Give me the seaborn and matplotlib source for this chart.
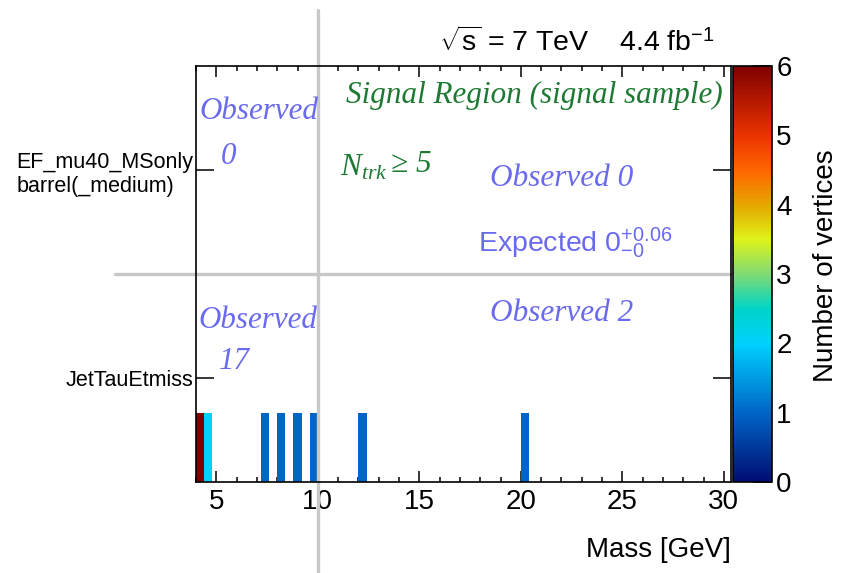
import numpy as np
import pandas as pd
import matplotlib
matplotlib.use("Agg")
import matplotlib.pyplot as plt
import seaborn as sns
from matplotlib.colors import LinearSegmentedColormap
from matplotlib.ticker import FixedLocator, MultipleLocator

# ---------------- data ----------------
mass_gev = [4.2, 4.6, 7.4, 8.2, 9.0, 9.8, 12.2, 20.2]
n_vertices = [11, 2, 1, 1, 1, 1, 1, 1]
trigger = ["JetTauEtmiss"] * 8
trigger_labels = ["JetTauEtmiss", "EF_mu40_MSonly\nbarrel(_medium)"]
x_ticks = [5, 10, 15, 20, 25, 30]
cbar_ticks = [0, 1, 2, 3, 4, 5, 6]
mass_edges = np.round(np.arange(4.0, 30.41, 0.4), 2)
row_edges = np.linspace(0, 2, 7)

# ---------------- style ----------------
sns.set_style("white")
plt.rcParams["font.family"] = ["Liberation Sans", "DejaVu Sans"]
plt.rcParams["mathtext.fontset"] = "custom"
plt.rcParams["mathtext.rm"] = "Liberation Sans"
plt.rcParams["mathtext.it"] = "Liberation Serif:italic"
plt.rcParams["mathtext.bf"] = "Liberation Sans:bold"
for k in ["text.color", "axes.labelcolor", "xtick.color", "ytick.color", "axes.edgecolor"]:
    plt.rcParams[k] = "black"

anchors = [
    (0.0, (0.00, 0.05, 0.45)),
    (1 / 6, (0.00, 0.40, 0.78)),
    (2 / 6, (0.00, 0.82, 1.00)),
    (2.5 / 6, (0.00, 0.83, 0.78)),
    (3 / 6, (0.50, 0.86, 0.45)),
    (3.5 / 6, (0.87, 0.95, 0.10)),
    (4 / 6, (0.90, 0.65, 0.00)),
    (4.5 / 6, (1.00, 0.40, 0.00)),
    (5 / 6, (0.92, 0.20, 0.00)),
    (1.0, (0.50, 0.00, 0.00)),
]
cmap = LinearSegmentedColormap.from_list("rootpal", anchors, N=256)

fig = plt.figure(figsize=(8.43, 5.73), dpi=100)
ax = fig.add_axes([0.2325, 0.1588, 0.6346, 0.726])
cax = fig.add_axes([0.8695, 0.1588, 0.0463, 0.726])

df = pd.DataFrame({
    "mass": mass_gev,
    "row": [trigger_labels.index(t) + 1 / 6 for t in trigger],
    "n": n_vertices,
})
sns.histplot(data=df, x="mass", y="row", weights="n",
             bins=(mass_edges, row_edges), cmap=cmap, cbar=False, ax=ax)
mesh = ax.collections[-1]
mesh.set_clim(0, 6)
mesh.set_zorder(1)

cb = fig.colorbar(mesh, cax=cax, ticks=cbar_ticks)
cb.outline.set_linewidth(1.2)
cb.outline.set_edgecolor("black")
cax.tick_params(direction="in", length=14, width=1.1, labelsize=20,
                right=True, left=False, pad=3, colors="black")

ax.set_xlim(4, 30.35)
ax.set_ylim(0, 2)
ax.set_xlabel("Mass [GeV]", fontsize=20, loc="right", labelpad=16)
ax.set_ylabel("")
ax.xaxis.set_major_locator(FixedLocator(x_ticks))
ax.xaxis.set_minor_locator(MultipleLocator(1))
ax.tick_params(axis="x", which="major", direction="in", length=8, width=1.1,
               top=True, bottom=True, labelsize=20, pad=5)
ax.tick_params(axis="x", which="minor", direction="in", length=3.8, width=1.1,
               top=True, bottom=True)
ax.set_yticks([0.5, 1.5])
ax.set_yticklabels(trigger_labels)
ax.tick_params(axis="y", which="major", direction="in", length=13, width=1.1,
               left=True, right=True, labelsize=15.5, pad=2)
for lab in ax.get_yticklabels():
    lab.set_multialignment("left")
for s in ax.spines.values():
    s.set_linewidth(1.2)
    s.set_color("black")

# grey separation lines
grey = "#c8c8c8"
ax.axvline(10, ymin=-0.22, ymax=1.135, color=grey, lw=2.4, clip_on=False, zorder=2)
ax.axhline(1, xmin=-0.151, xmax=1.0075, color=grey, lw=2.4, clip_on=False, zorder=2)

blue = "#6a6af0"
green = "#1e7a32"
serif_it = dict(family="Liberation Serif", style="italic")

ax.text(4.15, 1.78, "Observed", color=blue, fontsize=22.3, va="center", ha="left", zorder=3, **serif_it)
ax.text(5.2, 1.565, "0", color=blue, fontsize=22.3, va="center", ha="left", zorder=3, **serif_it)
ax.text(4.1, 0.775, "Observed", color=blue, fontsize=22.3, va="center", ha="left", zorder=3, **serif_it)
ax.text(5.15, 0.58, "17", color=blue, fontsize=22.3, va="center", ha="left", zorder=3, **serif_it)
ax.text(18.48, 1.46, "Observed 0", color=blue, fontsize=22.5, va="center", ha="left", zorder=3, **serif_it)
ax.text(18.48, 0.81, "Observed 2", color=blue, fontsize=22.5, va="center", ha="left", zorder=3, **serif_it)
ax.text(17.9, 1.15, r"Expected $0^{+0.06}_{-0}$", color=blue, fontsize=20.5,
        va="center", ha="left", zorder=3)
ax.text(29.95, 1.86, "Signal Region (signal sample)", color=green, fontsize=22.4,
        va="center", ha="right", zorder=3, **serif_it)
ax.text(11.1, 1.51, r"$N_{trk}$", color=green, fontsize=22.5,
        va="center", ha="left", zorder=3)
ax.text(13.6, 1.525, "\u2265 5", color=green, fontsize=22.5,
        va="center", ha="left", zorder=3, **serif_it)

fig.text(0.6845, 0.9267, r"$\sqrt{\mathrm{s}}$ = 7 TeV    4.4 fb$^{\mathrm{-1}}$",
         ha="center", va="center", fontsize=20.5)
fig.text(826 / 843, 1 - 266 / 573, "Number of vertices", rotation=90,
         ha="center", va="center", fontsize=20)

fig.savefig("out.png", dpi=100)
